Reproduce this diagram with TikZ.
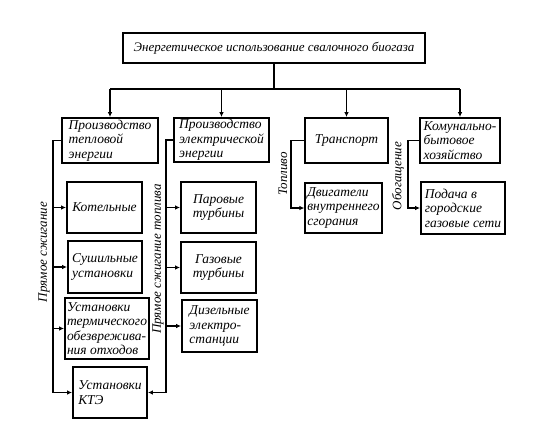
\documentclass[tikz,border=0pt]{standalone}
\usepackage{fontspec}
\setmainfont{Liberation Serif}
\usetikzlibrary{arrows.meta}
\begin{document}
\begin{tikzpicture}[x=1pt,y=-1pt,
  box/.style={draw, line width=1.8pt, inner xsep=2pt, inner ysep=1pt,
    font=\itshape\fontsize{13.5}{14.5}\selectfont},
  conn/.style={line width=1.4pt},
  arr/.style={conn, -{Latex[length=5pt,width=4.5pt]}},
  lbl/.style={font=\itshape\fontsize{13}{14}\selectfont, rotate=90, inner sep=0pt}]
\useasboundingbox (0,0) rectangle (538,432);
\fill[white] (0,0) rectangle (538,432);

% top
\node[box, minimum width=302pt, minimum height=30pt, font=\itshape\fontsize{13}{14}\selectfont] (top) at (274,48)
  {Энергетическое использование свалочного биогаза};

% second level
\node[box, minimum width=96pt, minimum height=45pt, align=left] (b1) at (110,140.5)
  {Производство\\тепловой\\энергии};
\node[box, minimum width=95pt, minimum height=44pt, align=left] (b2) at (221.5,140)
  {Производство\\электрической\\энергии};
\node[box, minimum width=83pt, minimum height=45pt, align=center] (tr) at (346.5,140.5)
  {Транспорт};
\node[box, minimum width=80pt, minimum height=45pt, align=left] (kb) at (460,140.5)
  {Комунально-\\бытовое\\хозяйство};

% left column
\node[box, minimum width=75pt, minimum height=51pt, align=center] (kot) at (104.5,207.5)
  {Котельные};
\node[box, minimum width=74pt, minimum height=52pt, align=left] (sush) at (105,267)
  {Сушильные\\установки};
\node[box, minimum width=82pt, minimum height=61pt, align=left] (term) at (107,328.5)
  {Установки\\термического\\обезврежива-\\ния отходов};
\node[box, minimum width=74pt, minimum height=51pt, align=left] (kte) at (110,392.5)
  {Установки\\КТЭ};

% middle column
\node[box, minimum width=75pt, minimum height=51pt, align=center] (par) at (218.5,207.5)
  {Паровые\\турбины};
\node[box, minimum width=75pt, minimum height=51pt, align=center] (gaz) at (218.5,267.5)
  {Газовые\\турбины};
\node[box, minimum width=75pt, minimum height=52pt, align=left] (diz) at (219.5,326)
  {Дизельные\\электро-\\станции};

% right columns
\node[box, minimum width=75pt, minimum height=50pt, align=left] (dv) at (343.5,208)
  {Двигатели\\внутреннего\\сгорания};
\node[box, minimum width=84pt, minimum height=52pt, align=left] (pod) at (463,208)
  {Подача в\\городские\\газовые сети};

% coordinates
\coordinate (h) at (274,89);
\coordinate (L) at (53,141);
\coordinate (R) at (166,141);
\coordinate (Tp) at (291,141);
\coordinate (Ob) at (408,141);

% top connectors
\draw[conn] (top.south) -- (h);
\draw[conn] (b1.north |- h) -- (kb.north |- h);
\draw[arr] (b1.north |- h) -- (b1.north);
\draw[arr] (b2.north |- h) -- (b2.north);
\draw[arr] (tr.north |- h) -- (tr.north);
\draw[arr] (kb.north |- h) -- (kb.north);

% left feed
\draw[arr] (b1.west) -- (b1.west -| L) -- (L |- kte.west) -- (kte.west);
\draw[arr] (L |- kot.west) -- (kot.west);
\draw[arr] (L |- sush.west) -- (sush.west);
\draw[arr] (L |- term.west) -- (term.west);

% middle feed
\draw[arr] (b2.west) -- (b2.west -| R) -- (R |- kte.east) -- (kte.east);
\draw[arr] (R |- par.west) -- (par.west);
\draw[arr] (R |- gaz.west) -- (gaz.west);
\draw[arr] (R |- diz.west) -- (diz.west);

% transport and communal
\draw[arr] (tr.west) -- (tr.west -| Tp) -- (Tp |- dv.west) -- (dv.west);
\draw[arr] (kb.west) -- (kb.west -| Ob) -- (Ob |- pod.west) -- (pod.west);

% labels
\node[lbl] (l1) at (44,252) {Прямое сжигание};
\node[lbl] (l2) at (158,259) {Прямое сжигание топлива};
\node[lbl] (l3) at (283,174) {Топливо};
\node[lbl] (l4) at (398,176) {Обогащение};
\end{tikzpicture}
\end{document}
